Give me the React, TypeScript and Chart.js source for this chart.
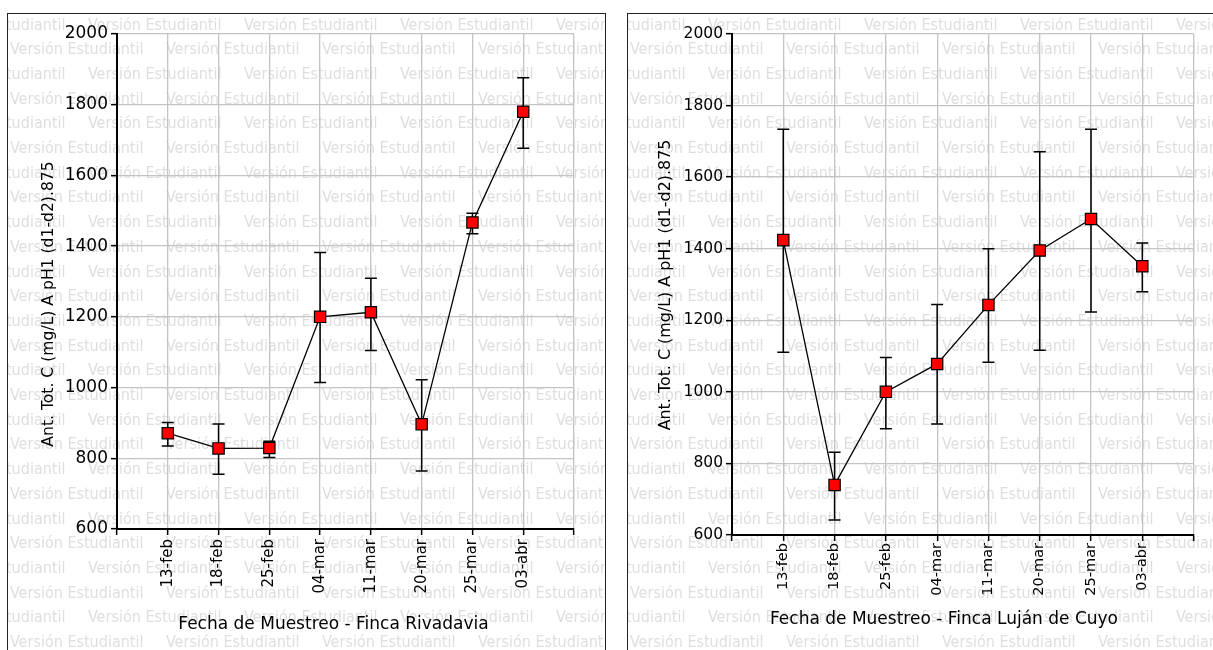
import React, { useEffect, useRef } from "react";
import { Chart, registerables } from "chart.js";

Chart.register(...registerables);

// Sampling dates shared by both vineyards
const dates = ["13-feb", "18-feb", "25-feb", "04-mar", "11-mar", "20-mar", "25-mar", "03-abr"];
const yTicks = [600, 800, 1000, 1200, 1400, 1600, 1800, 2000];

// Finca Rivadavia: mean and error-bar limits
const rivMean = [871, 828, 829, 1200, 1213, 896, 1467, 1780];
const rivHigh = [901, 897, 848, 1382, 1309, 1022, 1493, 1876];
const rivLow = [835, 755, 802, 1014, 1105, 764, 1435, 1677];

// Finca Luján de Cuyo: mean and error-bar limits
const lujMean = [1424, 740, 1000, 1078, 1243, 1395, 1483, 1351];
const lujHigh = [1734, 831, 1096, 1244, 1400, 1671, 1734, 1416];
const lujLow = [1111, 642, 897, 910, 1083, 1116, 1223, 1280];

const Y_TITLE = "Ant. Tot. C (mg/L) A pH1 (d1-d2).875";
const WATERMARK = "Versión Estudiantil";
const FONT = "'DejaVu Sans', 'Liberation Sans', sans-serif";

type PanelSpec = {
  mean: number[];
  low: number[];
  high: number[];
  xTitle: string;
  width: number;
  height: number;
  area: { left: number; top: number; right: number; bottom: number };
  yTickSize: number;
  xTickSize: number;
  xTickPad: number;
  yTitleSize: number;
  xTitlePos: [number, number];
  yTitlePos: [number, number];
};

const watermarkPlugin = {
  id: "watermark",
  beforeDraw(chart: any) {
    const { ctx, width, height } = chart;
    ctx.save();
    ctx.font = "16px 'DejaVu Sans Condensed', 'DejaVu Sans', sans-serif";
    ctx.fillStyle = "#dedede";
    ctx.textBaseline = "alphabetic";
    ctx.textAlign = "left";
    for (let r = 0; 15.5 + r * 24.7 < height + 20; r++) {
      const y = 15.5 + r * 24.7;
      const start = r % 2 === 0 ? 80 - 156 : 2;
      for (let x = start; x < width; x += 156) ctx.fillText(WATERMARK, x, y);
    }
    ctx.restore();
  },
};

function makeErrorBars(low: number[], high: number[]) {
  return {
    id: "errorBars",
    beforeDatasetsDraw(chart: any) {
      const { ctx } = chart;
      const xs = chart.scales.x;
      const ys = chart.scales.y;
      ctx.save();
      ctx.strokeStyle = "#000";
      ctx.lineWidth = 1.5;
      low.forEach((lo, i) => {
        const px = xs.getPixelForValue(i + 1);
        const yl = ys.getPixelForValue(lo);
        const yh = ys.getPixelForValue(high[i]);
        ctx.beginPath();
        ctx.moveTo(px, yl);
        ctx.lineTo(px, yh);
        ctx.moveTo(px - 6, yl);
        ctx.lineTo(px + 6, yl);
        ctx.moveTo(px - 6, yh);
        ctx.lineTo(px + 6, yh);
        ctx.stroke();
      });
      ctx.restore();
    },
  };
}

function makeTitles(spec: PanelSpec) {
  return {
    id: "axisTitles",
    afterDraw(chart: any) {
      const { ctx } = chart;
      ctx.save();
      ctx.fillStyle = "#000";
      ctx.textAlign = "center";
      ctx.textBaseline = "alphabetic";
      ctx.font = `17px ${FONT}`;
      ctx.fillText(spec.xTitle, spec.xTitlePos[0], spec.xTitlePos[1]);
      ctx.translate(spec.yTitlePos[0], spec.yTitlePos[1]);
      ctx.rotate(-Math.PI / 2);
      ctx.font = `${spec.yTitleSize}px ${FONT}`;
      ctx.fillText(Y_TITLE, 0, 0);
      ctx.restore();
    },
  };
}

function buildConfig(spec: PanelSpec): any {
  const { area, width, height } = spec;
  return {
    type: "line",
    data: {
      datasets: [
        {
          data: spec.mean.map((v, i) => ({ x: i + 1, y: v })),
          borderColor: "#000",
          borderWidth: 1.3,
          tension: 0,
          fill: false,
          pointStyle: "rect",
          pointRadius: 8,
          pointBackgroundColor: "#ff0000",
          pointBorderColor: "#000",
          pointBorderWidth: 1.2,
        },
      ],
    },
    options: {
      animation: false,
      responsive: false,
      events: [],
      layout: { padding: { left: 0, top: area.top, right: width - area.right, bottom: 0 } },
      plugins: { legend: { display: false }, tooltip: { enabled: false }, title: { display: false } },
      scales: {
        x: {
          type: "linear",
          min: 0,
          max: dates.length + 1,
          afterBuildTicks: (s: any) => {
            s.ticks = Array.from({ length: dates.length + 2 }, (_, v) => ({ value: v }));
          },
          afterFit: (s: any) => {
            s.height = height - area.bottom;
          },
          ticks: {
            autoSkip: false,
            minRotation: 90,
            maxRotation: 90,
            padding: spec.xTickPad,
            color: "#000",
            font: { family: FONT, size: spec.xTickSize },
            callback: (v: number) => dates[v - 1] ?? "",
          },
          grid: { color: "#c4c4c4", lineWidth: 1.3, tickColor: "#000", tickLength: 6, tickWidth: 1.5 },
          border: { color: "#000", width: 2 },
        },
        y: {
          type: "linear",
          min: yTicks[0],
          max: yTicks[yTicks.length - 1],
          afterBuildTicks: (s: any) => {
            s.ticks = yTicks.map((v) => ({ value: v }));
          },
          afterFit: (s: any) => {
            s.width = area.left;
          },
          ticks: {
            padding: 3,
            color: "#000",
            font: { family: FONT, size: spec.yTickSize },
            callback: (v: number) => String(v),
          },
          grid: { color: "#c4c4c4", lineWidth: 1.3, tickColor: "#000", tickLength: 6, tickWidth: 1.5 },
          border: { color: "#000", width: 2 },
        },
      },
    },
    plugins: [watermarkPlugin, makeErrorBars(spec.low, spec.high), makeTitles(spec)],
  };
}

const leftSpec: PanelSpec = {
  mean: rivMean,
  low: rivLow,
  high: rivHigh,
  xTitle: "Fecha de Muestreo - Finca Rivadavia",
  width: 597,
  height: 636,
  area: { left: 109, top: 20, right: 566, bottom: 515 },
  yTickSize: 17,
  xTickSize: 15,
  xTickPad: 4,
  yTitleSize: 15.6,
  xTitlePos: [325.5, 615],
  yTitlePos: [44.5, 290],
};

const rightSpec: PanelSpec = {
  mean: lujMean,
  low: lujLow,
  high: lujHigh,
  xTitle: "Fecha de Muestreo - Finca Luján de Cuyo",
  width: 585,
  height: 636,
  area: { left: 104, top: 20, right: 566, bottom: 521 },
  yTickSize: 15.5,
  xTickSize: 14.5,
  xTickPad: 2,
  yTitleSize: 15.9,
  xTitlePos: [316, 610],
  yTitlePos: [42, 271],
};

function Panel({ spec, left, boxWidth }: { spec: PanelSpec; left: number; boxWidth: number }) {
  const ref = useRef<HTMLCanvasElement | null>(null);
  useEffect(() => {
    if (!ref.current) return;
    const chart = new Chart(ref.current, buildConfig(spec));
    return () => chart.destroy();
  }, [spec]);
  return (
    <div
      style={{
        position: "absolute",
        left,
        top: 13,
        width: boxWidth,
        height: 700,
        border: "1px solid #222",
        background: "#fff",
      }}
    >
      <canvas ref={ref} width={spec.width} height={spec.height} style={{ display: "block" }} />
    </div>
  );
}

export default function App() {
  return (
    <div
      style={{
        position: "absolute",
        left: 0,
        top: 0,
        width: 1213,
        height: 650,
        overflow: "hidden",
        background: "#fff",
      }}
    >
      <Panel spec={leftSpec} left={7} boxWidth={597} />
      <Panel spec={rightSpec} left={627} boxWidth={700} />
    </div>
  );
}
